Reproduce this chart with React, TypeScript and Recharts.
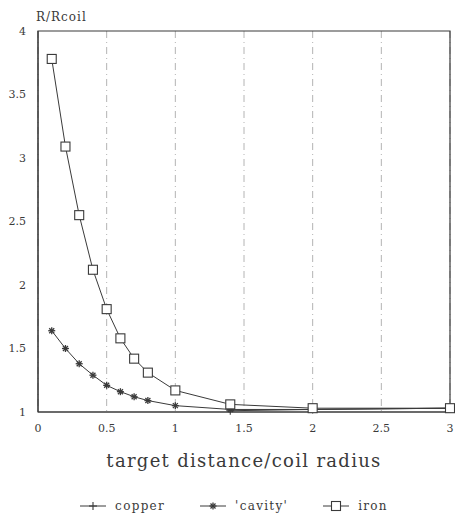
import React from 'react';
import { LineChart, Line, XAxis, YAxis, CartesianGrid, ReferenceArea } from 'recharts';

const distances = [0.1, 0.2, 0.3, 0.4, 0.5, 0.6, 0.7, 0.8, 1.0, 1.4, 2.0, 3.0];
const ironValues = [3.78, 3.09, 2.55, 2.12, 1.81, 1.58, 1.42, 1.31, 1.17, 1.06, 1.03, 1.03];
const cavityValues = [1.64, 1.5, 1.38, 1.29, 1.21, 1.16, 1.12, 1.09, 1.05, 1.02, 1.02, 1.03];
const copperValues = [null, null, null, null, null, null, null, null, null, 1.01, 1.02, 1.03];
const xTicks = [0, 0.5, 1, 1.5, 2, 2.5, 3];
const yTicks = [1, 1.5, 2, 2.5, 3, 3.5, 4];

const data = distances.map((d, i) => ({
  d,
  copper: copperValues[i],
  cavity: cavityValues[i],
  iron: ironValues[i],
}));

const INK = '#3a3a3a';
const FONT = '"DejaVu Serif", "Liberation Serif", serif';

const SquareDot = (p: any) => {
  const { cx, cy } = p;
  if (cx == null || cy == null || p.value == null) return null;
  return <rect key={p.index} x={cx - 4.5} y={cy - 4.5} width={9} height={9} fill="#fff" stroke={INK} strokeWidth={1.1} />;
};
const StarDot = (p: any) => {
  const { cx, cy } = p;
  if (cx == null || cy == null || p.value == null) return null;
  return (
    <g key={p.index} stroke={INK} strokeWidth={1.3}>
      <line x1={cx - 3.5} y1={cy} x2={cx + 3.5} y2={cy} />
      <line x1={cx} y1={cy - 3.5} x2={cx} y2={cy + 3.5} />
      <line x1={cx - 2.5} y1={cy - 2.5} x2={cx + 2.5} y2={cy + 2.5} />
      <line x1={cx - 2.5} y1={cy + 2.5} x2={cx + 2.5} y2={cy - 2.5} />
    </g>
  );
};
const PlusDot = (p: any) => {
  const { cx, cy } = p;
  if (cx == null || cy == null || p.value == null) return null;
  return (
    <g key={p.index} stroke={INK} strokeWidth={1.1}>
      <line x1={cx - 4} y1={cy} x2={cx + 4} y2={cy} />
      <line x1={cx} y1={cy - 4} x2={cx} y2={cy + 4} />
    </g>
  );
};

const legendItems = [
  { key: 'copper', label: 'copper', dot: 'plus' },
  { key: 'cavity', label: "'cavity'", dot: 'star' },
  { key: 'iron', label: 'iron', dot: 'square' },
];

const LegendBox = () => (
  <div style={{ position: 'absolute', left: 6, top: 499, width: 455, display: 'flex', justifyContent: 'center', gap: 34, fontFamily: FONT, fontSize: 12, color: INK, letterSpacing: 1.3 }}>
    {legendItems.map((it) => (
      <div key={it.key} style={{ display: 'flex', alignItems: 'center', gap: 8 }}>
        <svg width={28} height={12}>
          <line x1={1} y1={6} x2={27} y2={6} stroke={INK} strokeWidth={1} />
          {it.dot === 'plus' && <PlusDot cx={14} cy={6} value={1} index={0} />}
          {it.dot === 'star' && <StarDot cx={14} cy={6} value={1} index={0} />}
          {it.dot === 'square' && <SquareDot cx={14} cy={6} value={1} index={0} />}
        </svg>
        <span>{it.label}</span>
      </div>
    ))}
  </div>
);

export default function App() {
  return (
    <div style={{ position: 'absolute', left: 0, top: 0, width: 455, height: 514, background: '#fff' }}>
      <LineChart width={455} height={514} data={data} margin={{ top: 31, right: 5, left: 0, bottom: 72 }}>
        <CartesianGrid vertical horizontal={false} stroke="#b4b4b4" strokeDasharray="7 4 1 4" />
        <ReferenceArea x1={0} x2={3} y1={1} y2={4} fill="none" stroke={INK} strokeWidth={1.2} ifOverflow="visible" />
        <XAxis
          type="number"
          dataKey="d"
          domain={[0, 3]}
          ticks={xTicks}
          tickFormatter={(v: number) => String(v)}
          tickLine={false}
          axisLine={{ stroke: INK }}
          tick={{ fill: INK, fontSize: 11, fontFamily: FONT }}
          tickMargin={6}
          height={30}
          label={{ value: 'target distance/coil radius', position: 'insideBottom', offset: -25, fill: INK, fontSize: 18, fontFamily: FONT, style: { letterSpacing: 1.3 } }}
        />
        <YAxis
          type="number"
          domain={[1, 4]}
          ticks={yTicks}
          tickLine={false}
          axisLine={{ stroke: INK }}
          tick={{ fill: INK, fontSize: 11, fontFamily: FONT }}
          tickMargin={6}
          width={38}
        />
        <Line dataKey="copper" stroke={INK} strokeWidth={1} dot={<PlusDot />} isAnimationActive={false} connectNulls />
        <Line dataKey="cavity" stroke={INK} strokeWidth={1} dot={<StarDot />} isAnimationActive={false} />
        <Line dataKey="iron" stroke={INK} strokeWidth={1} dot={<SquareDot />} isAnimationActive={false} />
      </LineChart>
      <div style={{ position: 'absolute', left: 36, top: 10, fontFamily: FONT, fontSize: 12, letterSpacing: 1, color: INK }}>R/Rcoil</div>
      <LegendBox />
    </div>
  );
}
